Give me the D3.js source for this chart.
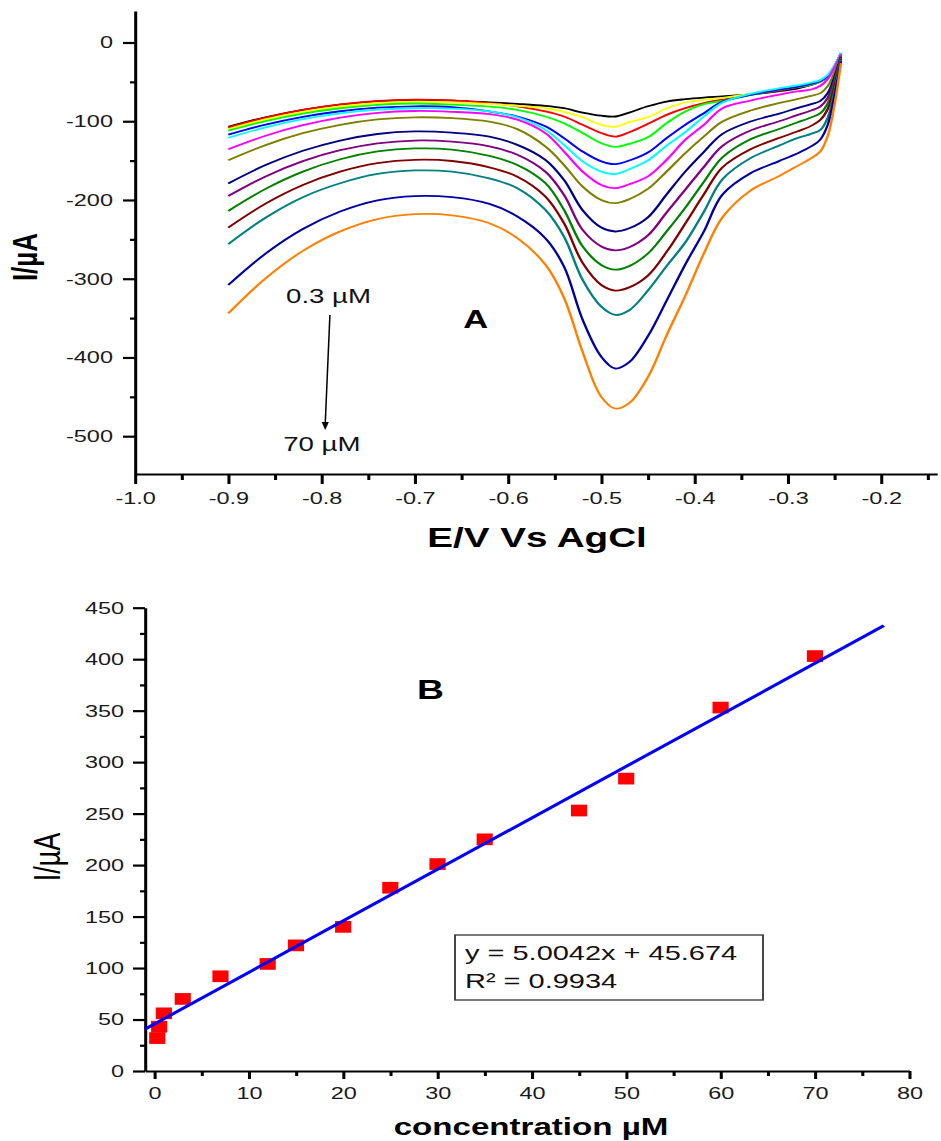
<!DOCTYPE html>
<html>
<head>
<meta charset="utf-8">
<script src="https://cdn.jsdelivr.net/npm/d3@7"></script>
<style>
  body { margin: 0; background: #fff; }
  svg { display: block; }
  text { font-family: "Liberation Sans", Arial, sans-serif; }
</style>
</head>
<body>
<div id="chart"></div>
<script>
// ---------- panel A : DPV curves, one per concentration ----------
const potential = [-0.90, -0.86, -0.82, -0.78, -0.74, -0.70, -0.66, -0.62, -0.59, -0.56,
  -0.54, -0.52, -0.50, -0.485, -0.47, -0.45, -0.43, -0.41, -0.39, -0.37,
  -0.34, -0.31, -0.29, -0.275, -0.265, -0.257, -0.25, -0.243];

const curveColors = ['#000000', '#FF0000', '#FFFF00', '#00FF00', '#0000FF', '#00FFFF', '#FF00FF',
  '#808000', '#000080', '#800080', '#008000', '#800000', '#008080', '#0000A0', '#FF8000'];

const cur_0_3 = [-107, -95, -85.6, -78.9, -74.7, -73, -73.7, -76, -78, -80.5, -83.5, -89, -93, -94, -89, -81, -75, -72, -70, -68.5, -66, -62, -58.5, -54, -49, -42, -30, -14];
const cur_0_5 = [-108, -95.5, -85.7, -78.7, -74.2, -72.5, -73.5, -77, -81, -87.5, -94, -104.5, -115, -119.5, -114, -103.3, -91.9, -83.4, -77, -72.4, -66.5, -61, -56.7, -53.8, -50, -43, -31, -14];
const cur_1 = [-110, -97.6, -88, -81.1, -76.7, -75, -76, -78, -80.5, -83.5, -88, -95, -104.5, -107, -101.2, -94.8, -83.8, -76.2, -72.8, -70.3, -65.2, -59.3, -55.9, -52.5, -49, -42, -30, -14];
const cur_3 = [-112, -99.8, -90.3, -83.5, -79.2, -77.5, -79, -81.5, -85.5, -94, -102.5, -115, -128, -132.5, -128.7, -120.3, -102.5, -87.6, -78.3, -74.1, -66.9, -60.1, -56.7, -53.5, -49.5, -43, -31, -14];
const cur_7 = [-117, -104.3, -94.4, -87.3, -82.8, -81, -82, -87.5, -94, -106.5, -121.5, -138.5, -151, -154.5, -149.9, -139.7, -121.5, -104.6, -89.8, -75, -66.5, -60, -56.3, -52.5, -49, -42.5, -30.5, -14];
const cur_12 = [-121, -107.8, -97.4, -90, -85.3, -83.5, -84, -87.5, -95, -111, -130, -151, -164, -167, -160.9, -149.9, -130.9, -113.9, -94, -76.2, -65.2, -58.4, -54.6, -51, -47.5, -41, -29.5, -13];
const cur_15 = [-135.5, -118.4, -105, -95.4, -89.4, -87, -88, -91, -98, -115, -138.5, -164, -181, -185, -180, -170, -149.1, -123.6, -104.6, -83.4, -73.7, -66.5, -62.2, -59.7, -55, -46, -32, -15];
const cur_20 = [-149.5, -130.3, -115.2, -104.5, -97.7, -95, -96, -100.5, -110, -132, -155.5, -183, -200, -204, -199, -186, -164, -140.6, -119.4, -100.4, -86.4, -77, -72, -67.7, -64.3, -55, -38, -17];
const cur_25 = [-179, -155.7, -137.5, -124.5, -116.2, -113, -114.5, -119.5, -130, -149, -174.5, -213, -235, -240, -236, -222, -193, -164, -139, -116, -100.4, -90.6, -83.4, -78.3, -74.1, -64, -44, -18];
const cur_30 = [-195, -170.1, -150.7, -136.8, -128, -124.5, -126, -132, -142.5, -164, -193.5, -238, -259, -264, -260, -245, -216, -187, -158, -131.3, -111.8, -100.4, -92.3, -86.4, -81.3, -70, -48, -19];
const cur_35 = [-214, -185.9, -164, -148.3, -138.4, -134.5, -136, -144, -155.5, -178.5, -212.5, -259, -282.5, -288.5, -284, -268, -240, -210, -177, -145.7, -122.8, -110.1, -101.6, -95.3, -89.8, -77, -52, -20];
const cur_45 = [-235, -204.6, -180.9, -164, -153.2, -149, -150.5, -158.5, -170.5, -195.5, -229.5, -280, -308, -315, -311, -296, -266, -230, -193, -158.4, -135.5, -121.5, -113.1, -105.9, -98.2, -84, -56, -21];
const cur_50 = [-256, -222.5, -196.5, -178.8, -167, -162.5, -164, -172.5, -185, -212.5, -246.5, -301.5, -335.5, -346, -340, -315, -284, -254, -215, -173.6, -146.9, -131.3, -121.5, -116, -111, -95, -62, -22];
const cur_60 = [-308, -268.1, -236.9, -214.7, -200.5, -195, -196.5, -205, -221, -248.5, -284.5, -352, -399, -414, -406, -373, -328, -282, -240, -193, -166, -151, -141, -132, -123, -104, -68, -24];
const cur_70 = [-344, -299.5, -264.7, -239.9, -224.2, -218, -219.5, -229.5, -248.5, -282, -324, -393, -450, -465, -458, -425, -372, -322, -268, -222, -188, -170, -157, -147, -138, -118, -80, -26];

const curvesA = [cur_0_3, cur_0_5, cur_1, cur_3, cur_7, cur_12, cur_15, cur_20,
  cur_25, cur_30, cur_35, cur_45, cur_50, cur_60, cur_70];

const xTicksA = [-1.0, -0.9, -0.8, -0.7, -0.6, -0.5, -0.4, -0.3, -0.2];
const xMinorA = [-0.95, -0.85, -0.75, -0.65, -0.55, -0.45, -0.35, -0.25, -0.15];
const yTicksA = [0, -100, -200, -300, -400, -500];
const yMinorA = [-50, -150, -250, -350, -450];

// ---------- panel B : calibration ----------
const concB = [0.3, 0.5, 1, 3, 7, 12, 15, 20, 25, 30, 35, 45, 50, 60, 70];
const peakB = [32, 43, 56, 70, 92, 104, 122, 140, 178, 201, 225, 253, 284, 353, 403];
const fitX = [-1, 77.3];
const fitY = [40.7, 432.5];
const xTicksB = [0, 10, 20, 30, 40, 50, 60, 70, 80];
const xMinorB = [5, 15, 25, 35, 45, 55, 65, 75];
const yTicksB = [0, 50, 100, 150, 200, 250, 300, 350, 400, 450];
const yMinorB = [25, 75, 125, 175, 225, 275, 325, 375, 425];

// the original figure is stretched sideways, so draw in a narrower box and let it stretch
const W = 941, H = 1141, K = 1.38;
const px = v => v / K;

const svg = d3.select('#chart').append('svg')
  .attr('width', W).attr('height', H)
  .attr('viewBox', `0 0 ${W / K} ${H}`)
  .attr('preserveAspectRatio', 'none');

function styleAxis(g, fs) {
  g.attr('font-size', fs).attr('font-family', '"Liberation Sans", Arial, sans-serif');
  g.selectAll('path.domain, line').attr('stroke', '#000').attr('stroke-width', 2.2);
  g.selectAll('text').attr('fill', '#1a1a1a');
}

// ================= panel A =================
const xA = d3.scaleLinear().domain([-1.0, -0.14]).range([px(135), px(937)]);
const yA = d3.scaleLinear().domain([-548, 40]).range([474, 11]);

const line = d3.line()
  .x((d, i) => xA(potential[i]))
  .y(d => yA(d))
  .curve(d3.curveCatmullRom.alpha(0.5));

svg.append('g')
  .selectAll('path')
  .data(curvesA)
  .join('path')
  .attr('d', line)
  .attr('fill', 'none')
  .attr('stroke', (d, i) => curveColors[i])
  .attr('stroke-width', 1.8);

svg.append('g').attr('transform', 'translate(0,474)')
  .call(d3.axisBottom(xA).tickValues(xMinorA).tickSize(6).tickSizeOuter(0).tickFormat(''))
  .call(g => g.select('.domain').remove())
  .call(g => styleAxis(g, 17));
svg.append('g').attr('transform', 'translate(0,474)')
  .call(d3.axisBottom(xA).tickValues(xTicksA).tickSize(10).tickSizeOuter(0)
    .tickPadding(7.5).tickFormat(d => d.toFixed(1)))
  .call(g => styleAxis(g, 17));

svg.append('g').attr('transform', `translate(${px(135)},0)`)
  .call(d3.axisLeft(yA).tickValues(yMinorA).tickSize(px(5)).tickSizeOuter(0).tickFormat(''))
  .call(g => g.select('.domain').remove())
  .call(g => styleAxis(g, 17));
svg.append('g').attr('transform', `translate(${px(135)},0)`)
  .call(d3.axisLeft(yA).tickValues(yTicksA).tickSize(px(12)).tickSizeOuter(0)
    .tickPadding(7.3).tickFormat(d => String(d)))
  .call(g => styleAxis(g, 17));

svg.append('text')
  .attr('x', px(537)).attr('y', 547)
  .attr('text-anchor', 'middle')
  .attr('font-size', 28).attr('font-weight', 'bold')
  .text('E/V Vs AgCl');

svg.append('text')
  .attr('transform', `translate(${px(37)},257) rotate(-90)`)
  .attr('text-anchor', 'middle')
  .attr('font-size', 26).attr('font-weight', 'bold')
  .text('I/µA');

svg.append('text')
  .attr('x', xA(-0.648)).attr('y', yA(-362))
  .attr('font-size', 25).attr('font-weight', 'bold')
  .text('A');

svg.append('text')
  .attr('x', xA(-0.838)).attr('y', yA(-331))
  .attr('font-size', 20).attr('fill', '#111')
  .text('0.3 µM');
svg.append('text')
  .attr('x', xA(-0.841)).attr('y', yA(-519))
  .attr('font-size', 20).attr('fill', '#111')
  .text('70 µM');

// arrow from 0.3 µM down to 70 µM
svg.append('line')
  .attr('x1', xA(-0.791)).attr('y1', yA(-346))
  .attr('x2', xA(-0.796)).attr('y2', yA(-484))
  .attr('stroke', '#000').attr('stroke-width', 1.1);
const tipX = xA(-0.796), tipY = yA(-492);
svg.append('path')
  .attr('d', `M${tipX},${tipY} L${tipX - 2.6},${tipY - 8} L${tipX + 2.6},${tipY - 8} Z`)
  .attr('fill', '#000');

// ================= panel B =================
const xB = d3.scaleLinear().domain([-1, 80]).range([px(145), px(909.3)]);
const yB = d3.scaleLinear().domain([0, 450]).range([1071, 607.7]);

svg.append('g').attr('transform', 'translate(0,1071)')
  .call(d3.axisBottom(xB).tickValues(xMinorB).tickSize(5).tickSizeOuter(0).tickFormat(''))
  .call(g => g.select('.domain').remove())
  .call(g => styleAxis(g, 17));
svg.append('g').attr('transform', 'translate(0,1071)')
  .call(d3.axisBottom(xB).tickValues(xTicksB).tickSize(8).tickSizeOuter(0)
    .tickPadding(7.7).tickFormat(d => String(d)))
  .call(g => styleAxis(g, 17));

svg.append('g').attr('transform', `translate(${px(145)},0)`)
  .call(d3.axisLeft(yB).tickValues(yMinorB).tickSize(px(5)).tickSizeOuter(0).tickFormat(''))
  .call(g => g.select('.domain').remove())
  .call(g => styleAxis(g, 17));
svg.append('g').attr('transform', `translate(${px(145)},0)`)
  .call(d3.axisLeft(yB).tickValues(yTicksB).tickSize(px(12)).tickSizeOuter(0)
    .tickPadding(6.5).tickFormat(d => String(d)))
  .call(g => styleAxis(g, 17));

const sq = 11.7;
svg.append('g')
  .selectAll('rect')
  .data(concB)
  .join('rect')
  .attr('x', d => xB(d) - sq / 2)
  .attr('y', (d, i) => yB(peakB[i]) - sq / 2)
  .attr('width', sq).attr('height', sq)
  .attr('fill', '#FF0000');

svg.append('line')
  .attr('x1', xB(fitX[0])).attr('y1', yB(fitY[0]))
  .attr('x2', xB(fitX[1])).attr('y2', yB(fitY[1]))
  .attr('stroke', '#0000FF').attr('stroke-width', 2.8);

svg.append('text')
  .attr('x', px(531)).attr('y', 1135)
  .attr('text-anchor', 'middle')
  .attr('font-size', 24).attr('font-weight', 'bold')
  .text('concentration µM');

svg.append('text')
  .attr('transform', `translate(${px(60)},857) rotate(-90)`)
  .attr('text-anchor', 'middle')
  .attr('font-size', 27)
  .text('I/µA');

svg.append('text')
  .attr('x', px(417)).attr('y', 699)
  .attr('font-size', 27).attr('font-weight', 'bold')
  .text('B');

// equation box
svg.append('rect')
  .attr('x', px(455)).attr('y', 935)
  .attr('width', px(763 - 455)).attr('height', 65)
  .attr('fill', 'none').attr('stroke', '#333').attr('stroke-width', 1.3);
svg.append('text')
  .attr('x', px(465)).attr('y', 960)
  .attr('font-size', 21).attr('fill', '#111')
  .text('y = 5.0042x + 45.674');
svg.append('text')
  .attr('x', px(465)).attr('y', 988)
  .attr('font-size', 21).attr('fill', '#111')
  .text('R² = 0.9934');
</script>
</body>
</html>
